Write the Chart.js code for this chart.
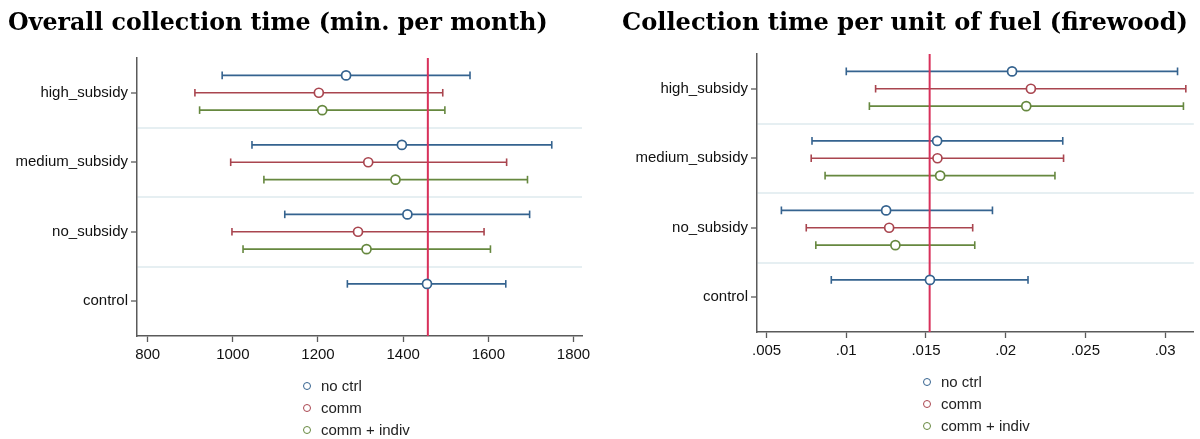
<!DOCTYPE html>
<html>
<head>
<meta charset="utf-8">
<script src="https://cdn.jsdelivr.net/npm/chart.js@4"></script>
<style>
  body { margin: 0; background: #fff; }
  #wrap { position: relative; width: 1200px; height: 439px; overflow: hidden; }
  .panel { position: absolute; top: 0; width: 600px; height: 439px; }
  .title { position: absolute; top: 6px; white-space: nowrap; font-family: "DejaVu Serif", "Liberation Serif", serif;
           font-weight: bold; font-size: 23.7px; line-height: 32px; color: #000; }
  .legend { position: absolute; font-family: "Liberation Sans", Arial, sans-serif; font-size: 15px; color: #222; }
  .legend div { height: 22px; line-height: 22px; white-space: nowrap; }
  .legend span.dot { display: inline-block; width: 6px; height: 6px; border-radius: 50%; border: 1.5px solid;
                     margin-right: 10px; vertical-align: 1px; }
</style>
</head>
<body>
<div id="wrap">
  <div class="panel" style="left:0"><canvas id="chartTime" width="600" height="439"></canvas></div>
  <div class="panel" style="left:600px"><canvas id="chartFuel" width="600" height="439"></canvas></div>
  <div class="title" style="left:8px">Overall collection time (min. per month)</div>
  <div class="title" style="left:622px; font-size:24.1px">Collection time per unit of fuel (firewood)</div>
  <div class="legend" id="legTime" style="left:303px; top:375px"></div>
  <div class="legend" id="legFuel" style="left:923px; top:371px"></div>
</div>
<script>
// categories top to bottom, and the three model specifications
var categories = ['high_subsidy', 'medium_subsidy', 'no_subsidy', 'control'];
var seriesNames = ['no ctrl', 'comm', 'comm + indiv'];
var seriesColors = ['#35638f', '#a9454f', '#66883f'];

// left panel: minutes per month
var timeEst_noctrl = [1266, 1397, 1410, 1456];
var timeLo_noctrl  = [975, 1045, 1122, 1269];
var timeHi_noctrl  = [1557, 1749, 1697, 1641];
var timeEst_comm = [1202, 1318, 1294, null];
var timeLo_comm  = [911, 995, 998, null];
var timeHi_comm  = [1493, 1643, 1590, null];
var timeEst_indiv = [1210, 1382, 1314, null];
var timeLo_indiv  = [922, 1073, 1024, null];
var timeHi_indiv  = [1498, 1692, 1605, null];
var timeRef = 1458;
var timeTicks = [800, 1000, 1200, 1400, 1600, 1800];
var timeTickLabels = ['800', '1000', '1200', '1400', '1600', '1800'];

// right panel: time per unit of firewood
var fuelEst_noctrl = [0.0204, 0.0157, 0.0125, 0.01525];
var fuelLo_noctrl  = [0.0100, 0.00785, 0.00593, 0.00906];
var fuelHi_noctrl  = [0.03078, 0.02358, 0.01917, 0.0214];
var fuelEst_comm = [0.02158, 0.01572, 0.01269, null];
var fuelLo_comm  = [0.01184, 0.0078, 0.00749, null];
var fuelHi_comm  = [0.0313, 0.02363, 0.01793, null];
var fuelEst_indiv = [0.02129, 0.01589, 0.01308, null];
var fuelLo_indiv  = [0.01145, 0.00867, 0.00809, null];
var fuelHi_indiv  = [0.03115, 0.02309, 0.01806, null];
var fuelRef = 0.01523;
var fuelTicks = [0.005, 0.01, 0.015, 0.02, 0.025, 0.03];
var fuelTickLabels = ['.005', '.01', '.015', '.02', '.025', '.03'];

var rowOffsets = [-0.25, 0, 0.25];   // position of each spec within a category band
var axisColor = '#5a5a5a';
var refColor = '#d8315b';
var sepColor = '#e6eff2';

function buildDatasets(est, lo, hi, ref) {
  var sets = [];
  for (var s = 0; s < 3; s++) {
    var pts = [], bars = [];
    for (var i = 0; i < categories.length; i++) {
      if (est[s][i] == null) continue;
      var y = i + rowOffsets[s];
      pts.push({x: est[s][i], y: y});
      bars.push({x: lo[s][i], y: y}, {x: hi[s][i], y: y}, {x: hi[s][i], y: null});
    }
    sets.push({
      type: 'scatter', label: seriesNames[s], data: pts, order: 0,
      pointStyle: 'circle', pointRadius: 4.5, pointBorderWidth: 1.7,
      pointBackgroundColor: '#fff', pointBorderColor: seriesColors[s]
    });
    sets.push({
      type: 'line', label: seriesNames[s] + ' ci', data: bars, order: 2,
      borderColor: seriesColors[s], borderWidth: 1.6, spanGaps: false,
      pointStyle: 'line', rotation: 90, pointRadius: 3.8, pointBorderWidth: 1.6,
      pointBorderColor: seriesColors[s], pointHoverRadius: 0
    });
  }
  sets.push({
    type: 'line', label: 'ref', data: [{x: ref, y: -0.5}, {x: ref, y: 3.5}], order: 1,
    borderColor: refColor, borderWidth: 2, pointRadius: 0
  });
  return sets;
}

function makeConfig(sets, xmin, xmax, ticks, tickLabels, yWidth, xHeight, pad) {
  return {
    type: 'scatter',
    data: { datasets: sets },
    options: {
      responsive: false,
      animation: false,
      layout: { padding: pad },
      plugins: { legend: { display: false }, tooltip: { enabled: false }, title: { display: false } },
      scales: {
        x: {
          type: 'linear', min: xmin, max: xmax,
          afterBuildTicks: function (sc) { sc.ticks = ticks.map(function (v) { return {value: v}; }); },
          afterFit: function (sc) { sc.height = xHeight; },
          ticks: {
            autoSkip: false, maxRotation: 0, padding: 4, color: '#111',
            font: { family: 'Liberation Sans', size: 15 },
            callback: function (v) { return tickLabels[ticks.indexOf(v)]; }
          },
          grid: { drawOnChartArea: false, drawTicks: true, tickLength: 6, tickColor: axisColor, tickWidth: 1.3 },
          border: { display: true, color: axisColor, width: 1.5 }
        },
        y: {
          type: 'linear', min: -0.5, max: 3.5, reverse: true,
          afterBuildTicks: function (sc) {
            var t = [];
            for (var v = -0.5; v <= 3.5; v += 0.5) t.push({value: v});
            sc.ticks = t;
          },
          afterFit: function (sc) { sc.width = yWidth; },
          ticks: {
            autoSkip: false, padding: 3, color: '#111',
            font: { family: 'Liberation Sans', size: 15 },
            callback: function (v) { return Number.isInteger(v) ? categories[v] : ''; }
          },
          grid: {
            drawTicks: true, tickLength: 6, lineWidth: 2, tickWidth: 1.3,
            color: function (c) {
              var v = c.tick ? c.tick.value : 0;
              return (!Number.isInteger(v) && v > -0.5 && v < 3.5) ? sepColor : 'rgba(0,0,0,0)';
            },
            tickColor: function (c) {
              return c.tick && Number.isInteger(c.tick.value) ? axisColor : 'rgba(0,0,0,0)';
            }
          },
          border: { display: true, color: axisColor, width: 1.5 }
        }
      }
    }
  };
}

function fillLegend(id) {
  var el = document.getElementById(id);
  var html = '';
  for (var s = 0; s < seriesNames.length; s++) {
    html += '<div><span class="dot" style="border-color:' + seriesColors[s] + '"></span>' + seriesNames[s] + '</div>';
  }
  el.innerHTML = html;
}

var timeSets = buildDatasets(
  [timeEst_noctrl, timeEst_comm, timeEst_indiv],
  [timeLo_noctrl, timeLo_comm, timeLo_indiv],
  [timeHi_noctrl, timeHi_comm, timeHi_indiv], timeRef);
var fuelSets = buildDatasets(
  [fuelEst_noctrl, fuelEst_comm, fuelEst_indiv],
  [fuelLo_noctrl, fuelLo_comm, fuelLo_indiv],
  [fuelHi_noctrl, fuelHi_comm, fuelHi_indiv], fuelRef);

new Chart(document.getElementById('chartTime'),
  makeConfig(timeSets, 775, 1820, timeTicks, timeTickLabels, 137, 103, {top: 58, right: 18, left: 0, bottom: 0}));
new Chart(document.getElementById('chartFuel'),
  makeConfig(fuelSets, 0.0044, 0.0318, fuelTicks, fuelTickLabels, 157, 107, {top: 54, right: 0, left: 0, bottom: 0}));

fillLegend('legTime');
fillLegend('legFuel');
</script>
</body>
</html>
